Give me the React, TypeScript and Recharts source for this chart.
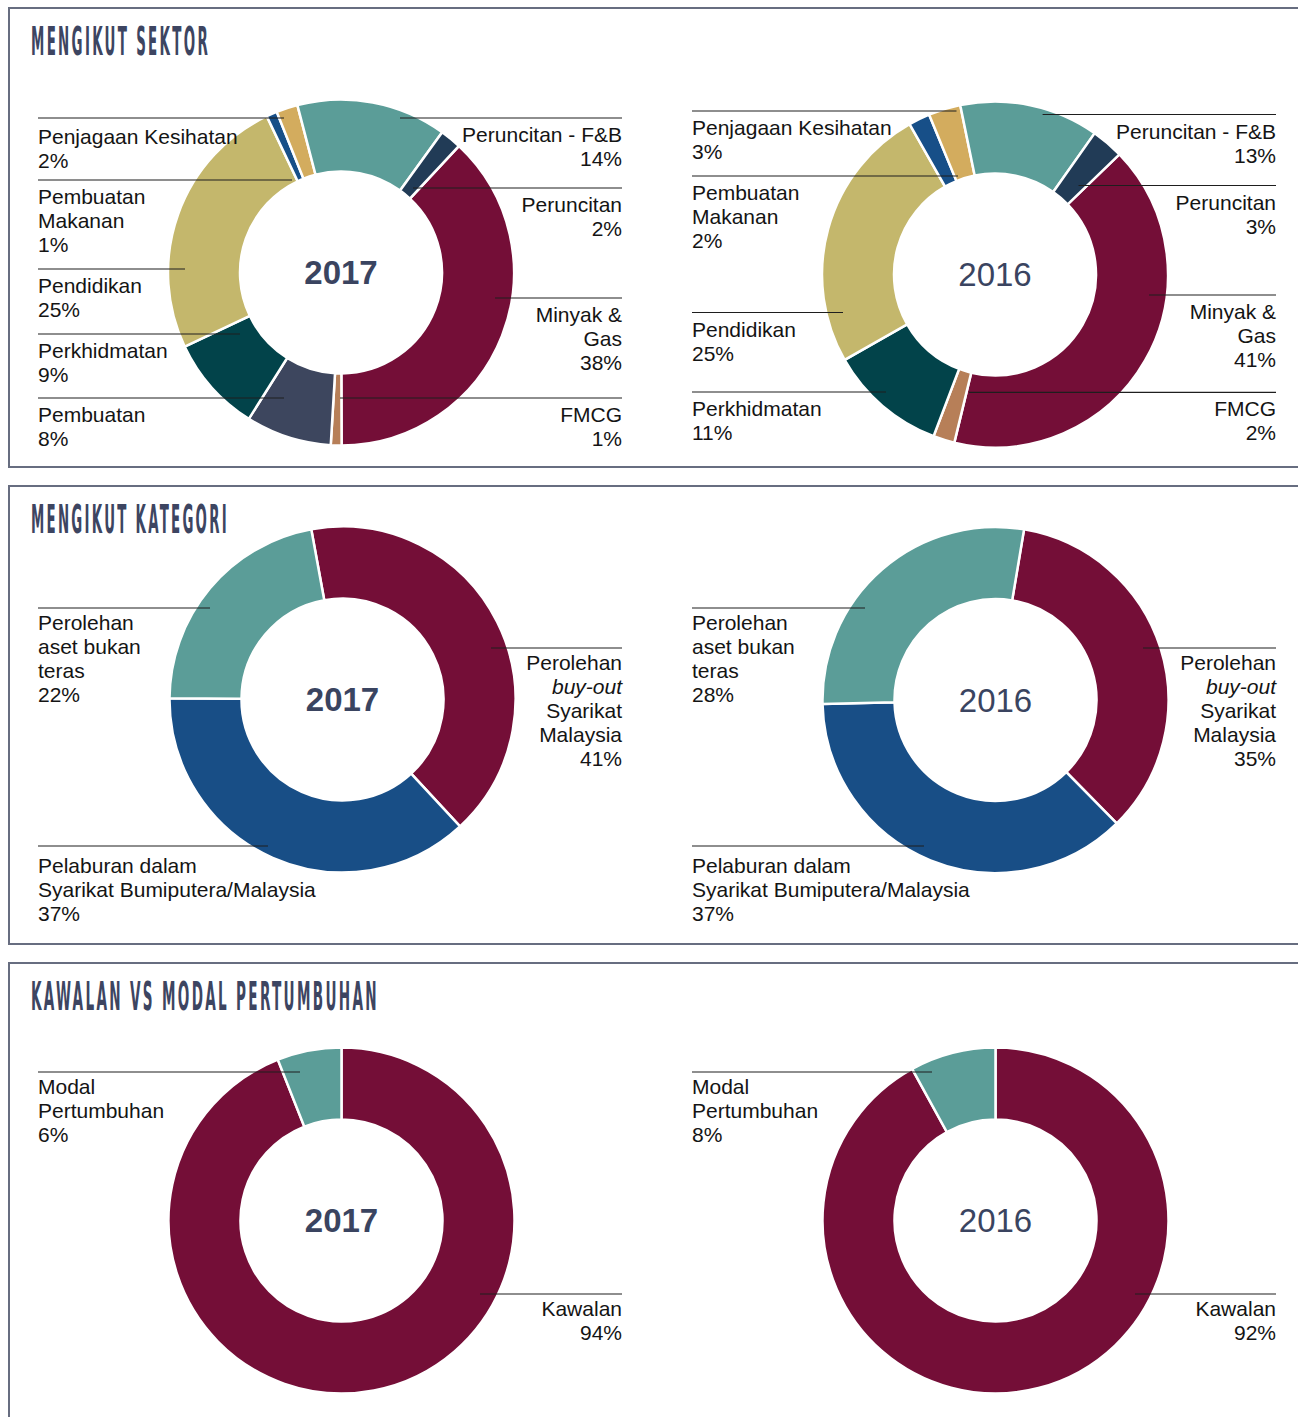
import React from 'react'
import { PieChart, Pie, Cell } from 'recharts'

// sector breakdown, clockwise from the Minyak & Gas slice
const SECTOR_NAMES_2017 = ['Minyak &\nGas', 'FMCG', 'Pembuatan', 'Perkhidmatan', 'Pendidikan', 'Pembuatan\nMakanan', 'Penjagaan Kesihatan', 'Peruncitan - F&B', 'Peruncitan']
const SECTOR_VALUES_2017 = [38, 1, 8, 9, 25, 1, 2, 14, 2]
const SECTOR_NAMES_2016 = ['Minyak &\nGas', 'FMCG', 'Perkhidmatan', 'Pendidikan', 'Pembuatan\nMakanan', 'Penjagaan Kesihatan', 'Peruncitan - F&B', 'Peruncitan']
const SECTOR_VALUES_2016 = [41, 2, 11, 25, 2, 3, 13, 3]

// category breakdown (*text* = italic line)
const CATEGORY_NAMES = ['Perolehan\n*buy-out*\nSyarikat\nMalaysia', 'Pelaburan dalam\nSyarikat Bumiputera/Malaysia', 'Perolehan\naset bukan\nteras']
const CATEGORY_VALUES_2017 = [41, 37, 22]
const CATEGORY_VALUES_2016 = [35, 37, 28]

// control vs growth capital
const CONTROL_NAMES = ['Kawalan', 'Modal\nPertumbuhan']
const CONTROL_VALUES_2017 = [94, 6]
const CONTROL_VALUES_2016 = [92, 8]

const COLOR_BY_NAME: Record<string, string> = {
  'Minyak &\nGas': '#740e37',
  'FMCG': '#b77f58',
  'Pembuatan': '#3d465e',
  'Perkhidmatan': '#02434a',
  'Pendidikan': '#c4b76c',
  'Pembuatan\nMakanan': '#174f88',
  'Penjagaan Kesihatan': '#d3ac5e',
  'Peruncitan - F&B': '#5b9d98',
  'Peruncitan': '#213b56',
  'Perolehan\n*buy-out*\nSyarikat\nMalaysia': '#740e37',
  'Pelaburan dalam\nSyarikat Bumiputera/Malaysia': '#184e86',
  'Perolehan\naset bukan\nteras': '#5b9d98',
  'Kawalan': '#740e37',
  'Modal\nPertumbuhan': '#5b9d98',
}

// leader line layout: side, anchor offset from pie centre (dx, dy), optional extra text gap
type Lbl = [string, number, number, number?]
const SECTOR_LBL_2017: Lbl[] = [['R', 154, 25.5], ['R', -1, 125.5], ['L', -57, 125.5], ['L', -101, 61.5], ['L', -156, -3.5], ['L', -49, -92.5], ['L', -57, -154.5, 2], ['R', 59, -154.5], ['R', 72, -84.5]]
const SECTOR_LBL_2016: Lbl[] = [['R', 154, 20.5], ['R', -26, 117.8], ['L', -109, 117.5], ['L', -152, 38], ['L', -37, -98.5], ['L', -38.5, -163.5], ['R', 47.6, -160], ['R', 83.5, -89]]
const CATEGORY_LBL_2017: Lbl[] = [['R', 148.5, -51.5], ['L', -74.5, 146.5, 5], ['L', -132.5, -91.5]]
const CATEGORY_LBL_2016: Lbl[] = [['R', 147.5, -52], ['L', -71.5, 146, 5], ['L', -130.5, -92]]
const CONTROL_LBL_2017: Lbl[] = [['R', 138.5, 73.5], ['L', -41.5, -148.5]]
const CONTROL_LBL_2016: Lbl[] = [['R', 139.5, 73.5], ['L', -63.5, -148.5]]

const LEFT_X = 38
const RIGHT_X = 622
const FONT = '"Liberation Sans", Arial, sans-serif'

function Donut({ names, values, lbl, year, bold, start, cx, cy, gap, left, top }: any) {
  const data = names.map((name: string, i: number) => ({ name, value: values[i] }))

  const renderLabel = (p: any) => {
    const [side, dx, dy, extra = 0] = lbl[p.index]
    const ay = p.cy + dy
    const ex = side === 'L' ? LEFT_X : RIGHT_X
    const lines = [...String(p.payload.name).split('\n'), `${p.payload.value}%`]
    return (
      <g>
        <line x1={ex} y1={ay} x2={p.cx + dx} y2={ay} stroke="#1e1e1e" strokeWidth={1.2} />
        <text x={ex} y={ay + gap + extra} textAnchor={side === 'L' ? 'start' : 'end'} fill="#141414" fontSize={21} fontFamily={FONT}>
          {lines.map((t, i) => {
            const it = t.startsWith('*')
            return <tspan key={i} x={ex} dy={i ? 24 : 0} fontStyle={it ? 'italic' : 'normal'}>{it ? t.slice(1, -1) : t}</tspan>
          })}
        </text>
        {p.index === 0 && (
          <text x={p.cx} y={p.cy} textAnchor="middle" dominantBaseline="central" fill="#3a4460"
                fontSize={33} fontWeight={bold ? 700 : 400} fontFamily={FONT}>{year}</text>
        )}
      </g>
    )
  }

  return (
    <div style={{ position: 'absolute', left, top }}>
      <PieChart width={644} height={460} margin={{ top: 0, right: 0, bottom: 0, left: 0 }}>
        <Pie data={data} dataKey="value" nameKey="name" cx={cx} cy={cy} innerRadius={101} outerRadius={173}
             startAngle={start} endAngle={start - 360} stroke="#fff" strokeWidth={2.5}
             label={renderLabel} labelLine={false} isAnimationActive={false}>
          {data.map((d: any) => <Cell key={d.name} fill={COLOR_BY_NAME[d.name]} />)}
        </Pie>
      </PieChart>
    </div>
  )
}

function Panel({ top, height, title, titleWidth }: any) {
  return (
    <>
      <div style={{ position: 'absolute', left: 8, top, width: 1300, height, boxSizing: 'border-box',
                    borderTop: '2px solid #676d80', borderLeft: '2px solid #676d80', borderBottom: '2px solid #676d80' }} />
      <svg width={1290} height={64} style={{ position: 'absolute', left: 0, top }}>
        <text x={31} y={48} textLength={titleWidth} lengthAdjust="spacingAndGlyphs" fill="#3d4561"
              fontSize={39} fontWeight={700} letterSpacing={6}
              fontFamily='"Liberation Sans Narrow", "DejaVu Sans Condensed", sans-serif'>{title}</text>
      </svg>
    </>
  )
}

export default function App() {
  return (
    <div style={{ position: 'absolute', left: 0, top: 0, width: 1298, height: 1417, overflow: 'hidden', background: '#fff' }}>
      <Panel top={7} height={461} title="MENGIKUT SEKTOR" titleWidth={179} />
      <Panel top={485} height={460} title="MENGIKUT KATEGORI" titleWidth={198} />
      <Panel top={962} height={470} title="KAWALAN VS MODAL PERTUMBUHAN" titleWidth={348} />

      <Donut names={SECTOR_NAMES_2017} values={SECTOR_VALUES_2017} lbl={SECTOR_LBL_2017} year="2017" bold
             start={47} cx={341} cy={265.5} gap={24} left={0} top={7} />
      <Donut names={SECTOR_NAMES_2016} values={SECTOR_VALUES_2016} lbl={SECTOR_LBL_2016} year="2016"
             start={44} cx={341} cy={267.5} gap={24} left={654} top={7} />

      <Donut names={CATEGORY_NAMES} values={CATEGORY_VALUES_2017} lbl={CATEGORY_LBL_2017} year="2017" bold
             start={100.4} cx={342.5} cy={214.5} gap={22} left={0} top={485} />
      <Donut names={CATEGORY_NAMES} values={CATEGORY_VALUES_2016} lbl={CATEGORY_LBL_2016} year="2016"
             start={80.5} cx={341.5} cy={215} gap={22} left={654} top={485} />

      <Donut names={CONTROL_NAMES} values={CONTROL_VALUES_2017} lbl={CONTROL_LBL_2017} year="2017" bold
             start={90} cx={341.5} cy={258.5} gap={22} left={0} top={962} />
      <Donut names={CONTROL_NAMES} values={CONTROL_VALUES_2016} lbl={CONTROL_LBL_2016} year="2016"
             start={90} cx={341.5} cy={258.5} gap={22} left={654} top={962} />
    </div>
  )
}
